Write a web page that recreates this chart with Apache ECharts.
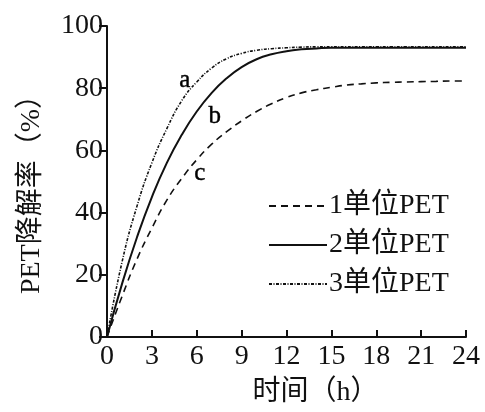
<!DOCTYPE html>
<html><head><meta charset="utf-8">
<script src="https://cdn.jsdelivr.net/npm/echarts@6/dist/echarts.min.js"></script>
<style>html,body{margin:0;padding:0;background:#fff}#c{width:485px;height:412px}</style>
</head><body><div id="c"></div>
<script>
const hours = [0,1,2,3,4,5,6,7,8,9,10,11,12,13,14,15,16,17,18,19,20,21,22,23,24];
const unit1 = [0,13,25,35,44,51,57,62,66,69.5,72.5,75,77,78.5,79.5,80.3,81,81.4,81.7,81.9,82,82.1,82.2,82.3,82.3];
const unit2 = [0,17,32,45,56,65,72.5,78.5,83.2,86.8,89.3,90.9,91.9,92.5,92.8,93,93,93,93,93,93,93,93,93,93];
const unit3 = [0,24,42,56,67,76,82,86.5,89.5,91.2,92.2,92.7,93,93.2,93.3,93.3,93.3,93.3,93.3,93.3,93.3,93.3,93.3,93.3,93.3];
const seriesNames = ['1单位PET','2单位PET','3单位PET'];
const curveLabels = [['a',5.2,82.5],['b',7.2,71],['c',6.2,52.5]];

const FONT = "'Liberation Serif','Noto Sans CJK SC',serif";
const INK = '#111';
const chart = echarts.init(document.getElementById('c'));
const mk = (name, data, type, width) => ({
  name, type:'line', data: hours.map((h,i)=>[h,data[i]]), smooth:0.5, symbol:'none',
  lineStyle:{color:INK, width, type}, itemStyle:{color:INK}, z:3
});
chart.setOption({
  animation:false,
  grid:{left:107, right:19, top:26, bottom:73},
  legend:{
    orient:'vertical', left:263, top:187, itemWidth:58, itemHeight:10, itemGap:11,
    itemStyle:{opacity:0},
    textStyle:{fontFamily:FONT, fontSize:28, color:INK, padding:[0,0,0,-3]},
    data: seriesNames
  },
  xAxis:{
    type:'value', min:0, max:24, interval:3,
    name:'时间（h）', nameLocation:'middle', nameGap:42,
    nameTextStyle:{fontFamily:FONT, fontSize:28, color:INK, padding:[0,0,0,58]},
    axisLine:{lineStyle:{color:INK, width:2}},
    axisTick:{inside:true, length:7, lineStyle:{color:INK, width:2}},
    axisLabel:{fontFamily:FONT, fontSize:28, color:INK, margin:6},
    splitLine:{show:false}
  },
  yAxis:{
    type:'value', min:0, max:100, interval:20,
    name:'PET降解率（%）', nameLocation:'middle', nameGap:61,
    nameTextStyle:{fontFamily:FONT, fontSize:28, color:INK, padding:[0,0,0,-12]},
    axisLine:{show:true, lineStyle:{color:INK, width:2}},
    axisTick:{show:true, length:8, lineStyle:{color:INK, width:2}},
    axisLabel:{fontFamily:FONT, fontSize:28, color:INK, margin:4},
    splitLine:{show:false}
  },
  series:[
    mk(seriesNames[0], unit1, [7,5], 1.6),
    mk(seriesNames[1], unit2, 'solid', 2),
    mk(seriesNames[2], unit3, [3,1.5,1,1.5], 1.6),
    {type:'scatter', data: curveLabels.map(l=>({name:l[0], value:[l[1],l[2]]})), symbolSize:0,
     itemStyle:{opacity:1},
     label:{show:true, position:'inside', formatter:'{b}', fontFamily:FONT, fontSize:25, color:'#000',
            opacity:1, textBorderColor:'#000', textBorderWidth:0.4},
     emphasis:{disabled:true}, silent:true, z:4}
  ]
});
</script></body></html>
